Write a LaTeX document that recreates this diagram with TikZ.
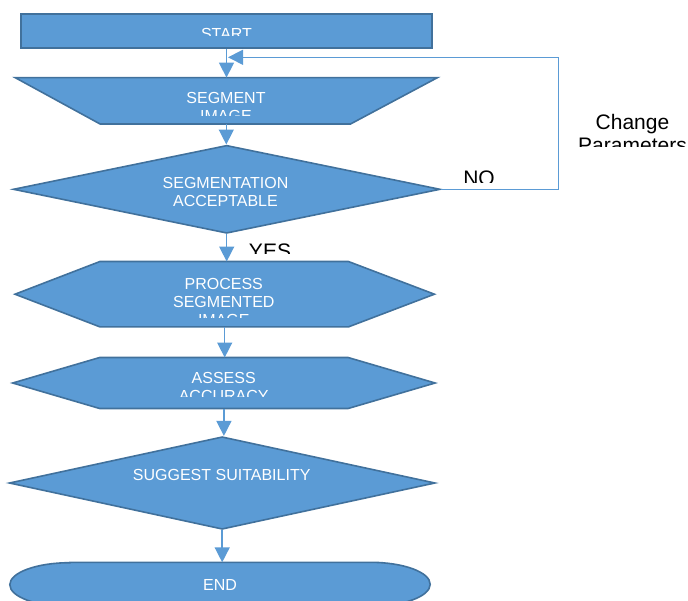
\documentclass[tikz,border=0pt]{standalone}
\usepackage{fontspec}
\setmainfont{Liberation Sans}
\usetikzlibrary{arrows.meta, calc, shapes.geometric}
\definecolor{flowblue}{HTML}{5B9BD5}
\definecolor{flowedge}{HTML}{41719C}
% text that is cut off below a given height
\newcommand{\cutlabel}[5]{%
  \begin{scope}
    \clip (0,0) rectangle (688,#4);
    \node[#1] (#2) at (#3) {#5};
  \end{scope}}

\begin{document}
\begin{tikzpicture}[x=1pt, y=-1pt,
  flowbox/.style={draw=flowedge, fill=flowblue, line width=1.6pt},
  flowline/.style={flowblue, line width=1.5pt, -{Triangle[width=15pt,length=15pt]}},
  backline/.style={flowblue, line width=1pt, -{Triangle[width=15pt,length=15pt]}},
  whitetext/.style={text=white, font=\fontsize{16}{18}\selectfont, align=center, inner sep=0pt, anchor=north},
  blacktext/.style={text=black, font=\fontsize{21}{23}\selectfont, align=center, inner sep=0pt, anchor=north}]
\useasboundingbox (0,0) rectangle (688,600);
\clip (0,0) rectangle (688,600);

% shapes
\node[flowbox, inner sep=0pt, minimum width=411pt, minimum height=34pt] (start) at (226.5,31.2) {};
\node[inner sep=0pt, minimum width=422pt, minimum height=46pt] (segment) at (226.3,100.8) {};
\draw[flowbox] (segment.north west) -- (segment.north east) -- ($(segment.south east)+(-87,0)$) -- ($(segment.south west)+(85,0)$) -- cycle;
\node[flowbox, diamond, inner sep=0pt, minimum width=427pt, minimum height=88pt] (accept) at (226.7,189.3) {};
\node[inner sep=0pt, minimum width=419pt, minimum height=65pt] (process) at (224.7,294.2) {};
\draw[flowbox] (process.west) -- ($(process.north west)+(85,0)$) -- ($(process.north east)+(-86,0)$) -- (process.east) -- ($(process.south east)+(-86,0)$) -- ($(process.south west)+(85,0)$) -- cycle;
\node[inner sep=0pt, minimum width=422pt, minimum height=50.6pt] (assess) at (223.9,383) {};
\draw[flowbox] (assess.west) -- ($(assess.north west)+(87,0)$) -- ($(assess.north east)+(-87,0)$) -- (assess.east) -- ($(assess.south east)+(-87,0)$) -- ($(assess.south west)+(87,0)$) -- cycle;
\node[flowbox, diamond, inner sep=0pt, minimum width=426pt, minimum height=92.6pt] (suggest) at (222.2,483) {};
\node[inner sep=0pt, minimum width=420pt, minimum height=44pt] (finish) at (220,584.5) {};
\draw[flowbox] ($(finish.north west)+(60,0)$) -- ($(finish.north east)+(-60,0)$) arc[start angle=-90, end angle=90, x radius=60, y radius=22] -- ($(finish.south west)+(60,0)$) arc[start angle=90, end angle=270, x radius=60, y radius=22] -- cycle;

% connectors
\draw[flowline] (start.south) -- (start.south |- segment.north);
\draw[flowline] (segment.south) -- (segment.south |- accept.north);
\draw[flowline] (accept.south) -- (accept.south |- process.north);
\draw[flowline] (process.south) -- (process.south |- assess.north);
\draw[flowline] (assess.south) -- (assess.south |- suggest.north);
\draw[flowline] (suggest.south) -- (suggest.south |- finish.north);
\coordinate (turn) at (558.5,57.3);
\coordinate (back) at (228,57.3);
\draw[backline] (accept.east) -| (turn) -- (back);

% labels
\cutlabel{whitetext}{starttext}{226.5,28}{35}{START}
\cutlabel{whitetext}{segmenttext}{226,91.7}{115}{SEGMENT\\IMAGE}
\node[whitetext] (accepttext) at (225.5,176.7) {SEGMENTATION\\ACCEPTABLE};
\cutlabel{blacktext}{yes}{270,243.3}{253.3}{YES}
\cutlabel{blacktext}{no}{479,171}{182.7}{NO}
\cutlabel{blacktext}{change}{632.5,114}{146}{Change\\Parameters}
\cutlabel{whitetext}{processtext}{223.8,277.7}{317.3}{PROCESS\\SEGMENTED\\IMAGE}
\cutlabel{whitetext}{assesstext}{223.7,372.3}{396.7}{ASSESS\\ACCURACY}
\node[whitetext] (suggesttext) at (221.7,469.3) {SUGGEST SUITABILITY};
\node[whitetext] (endtext) at (220,579.3) {END};
\end{tikzpicture}
\end{document}
